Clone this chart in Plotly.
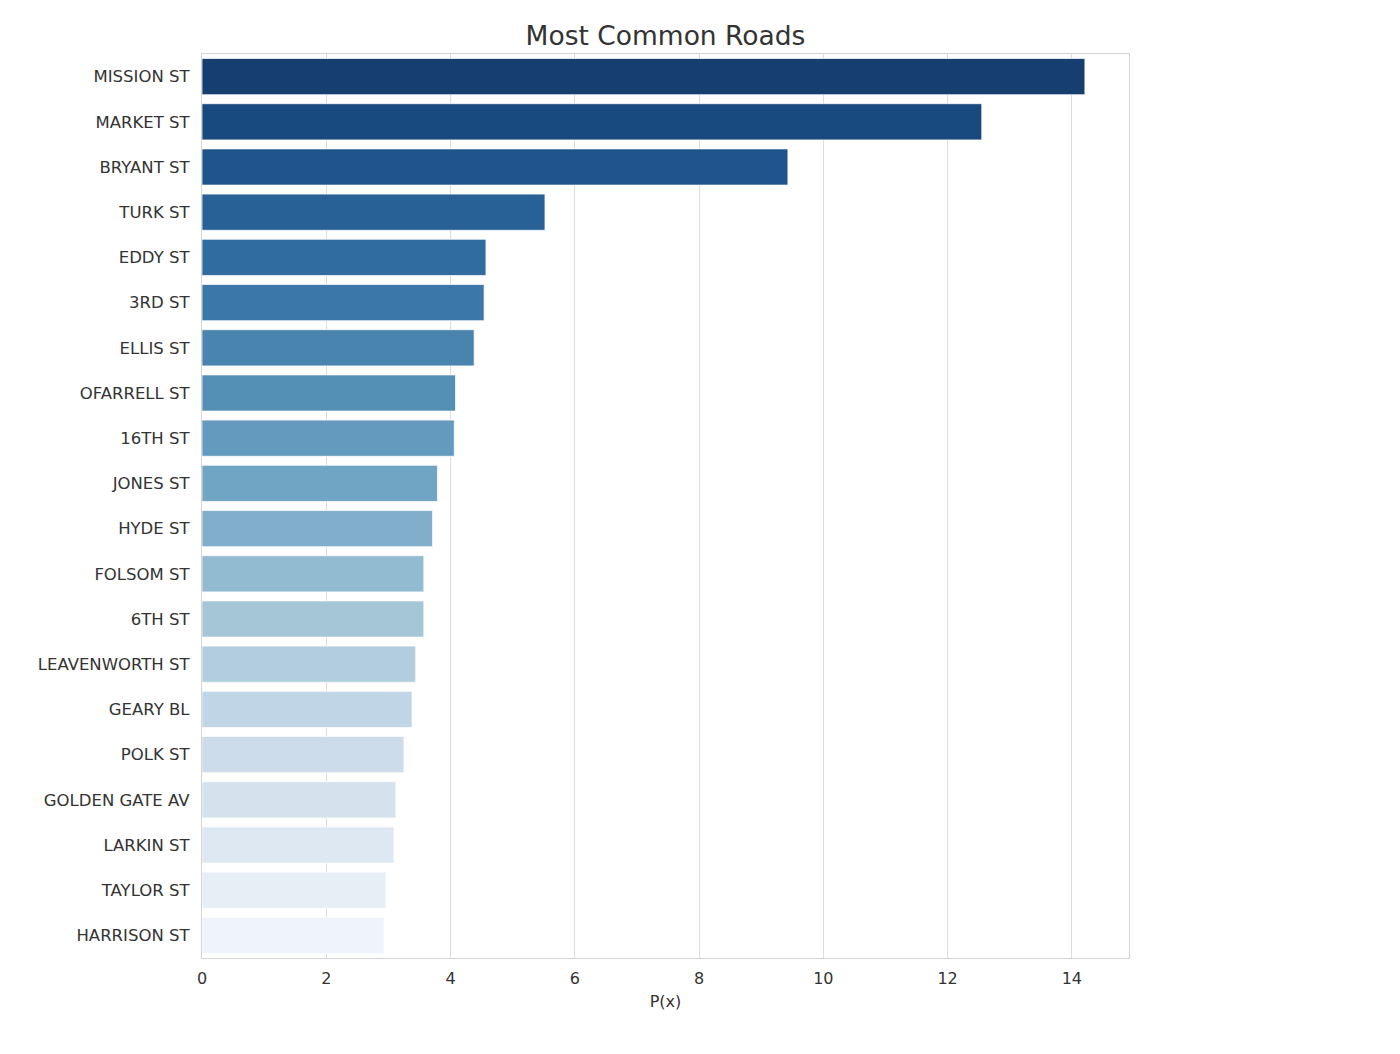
import colorsys
import plotly.graph_objects as go
from plotly.colors import sample_colorscale, sequential, unlabel_rgb

roads = ["MISSION ST", "MARKET ST", "BRYANT ST", "TURK ST", "EDDY ST",
         "3RD ST", "ELLIS ST", "OFARRELL ST", "16TH ST", "JONES ST",
         "HYDE ST", "FOLSOM ST", "6TH ST", "LEAVENWORTH ST", "GEARY BL",
         "POLK ST", "GOLDEN GATE AV", "LARKIN ST", "TAYLOR ST", "HARRISON ST"]
px_values = [14.21, 12.55, 9.43, 5.52, 4.57,
             4.54, 4.38, 4.08, 4.06, 3.79,
             3.71, 3.57, 3.57, 3.44, 3.38,
             3.25, 3.12, 3.09, 2.96, 2.93]
x_ticks = [0, 2, 4, 6, 8, 10, 12, 14]

# seaborn-ish "Blues_r" palette, desaturated to 0.75
n = len(roads)
pos = [(n - i) / (n + 1) for i in range(n)]
colors = []
for c in sample_colorscale(sequential.Blues, pos):
    r, g, b = [v / 255 for v in unlabel_rgb(c)]
    h, l, s = colorsys.rgb_to_hls(r, g, b)
    r, g, b = colorsys.hls_to_rgb(h, l, s * 0.75)
    colors.append("rgb(%d,%d,%d)" % (r * 255, g * 255, b * 255))

fig = go.Figure(go.Bar(
    x=px_values, y=roads, orientation="h",
    marker=dict(color=colors, line=dict(color="rgba(255,255,255,0.7)", width=1)),
    width=0.8,
))

fig.update_layout(
    width=1400, height=1054,
    margin=dict(l=194, r=279, t=46, b=104),
    paper_bgcolor="white", plot_bgcolor="white",
    font=dict(family="DejaVu Sans", size=16, color="#333333"),
    title=dict(text="Most Common Roads", x=0.5, xref="paper", xanchor="center",
               y=0.9734, yanchor="middle", font=dict(size=26.5, color="#333333")),
    showlegend=False,
    bargap=0.2,
)
fig.update_xaxes(
    range=[0, 14.92], tickvals=x_ticks, showgrid=True, gridcolor="#dcdcdc",
    gridwidth=1.3, zeroline=False, showline=True, linecolor="#d4d4d4",
    mirror=True, linewidth=1.3, ticks="", tickfont=dict(size=16),
    ticklabelstandoff=6,
    title=dict(text="P(x)", standoff=8, font=dict(size=16)),
)
fig.update_yaxes(
    categoryorder="array", categoryarray=roads, autorange="reversed",
    showgrid=False, showline=True, linecolor="#d4d4d4", mirror=True,
    linewidth=1.3, ticks="", ticklabelstandoff=8, tickfont=dict(size=16.5),
)

fig.write_html("out.html")
